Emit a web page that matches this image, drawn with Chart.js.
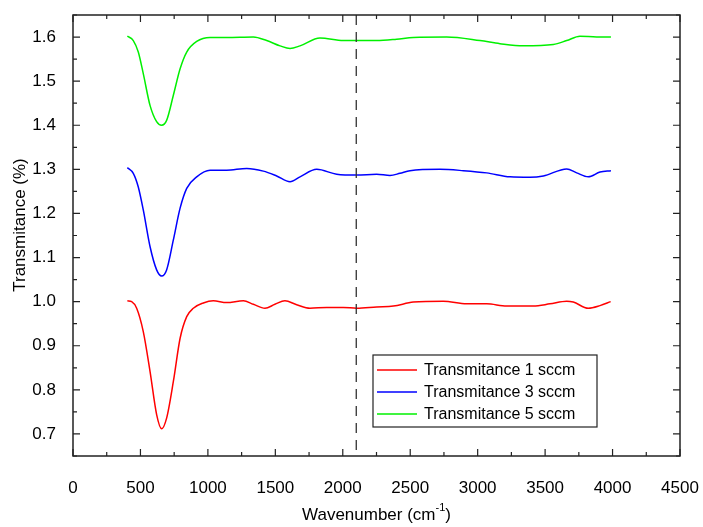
<!DOCTYPE html>
<html>
<head>
<meta charset="utf-8">
<script src="https://cdn.jsdelivr.net/npm/chart.js@4/dist/chart.umd.min.js"></script>
<style>
  html, body { margin: 0; padding: 0; background: #fff; }
  #wrap { width: 703px; height: 527px; }
</style>
</head>
<body>
<div id="wrap"><canvas id="chart" width="703" height="527"></canvas></div>
<script>
// Values (wavenumber in cm-1, transmitance)
const redX = [403, 435, 472, 521, 571, 620, 657, 694, 744, 794, 843, 892, 966, 1040, 1139, 1263, 1337, 1423, 1497, 1571, 1658, 1757, 1881, 2004, 2103, 2251, 2375, 2523, 2745, 2918, 3067, 3215, 3412, 3536, 3660, 3709, 3820, 3907, 3986];
const redY = [1.002, 1.000, 0.985, 0.932, 0.842, 0.744, 0.712, 0.736, 0.819, 0.917, 0.966, 0.985, 0.997, 1.002, 0.998, 1.002, 0.994, 0.985, 0.994, 1.002, 0.993, 0.985, 0.987, 0.987, 0.985, 0.988, 0.990, 0.999, 1.001, 0.995, 0.995, 0.990, 0.990, 0.995, 1.001, 0.999, 0.985, 0.991, 1.000];

const blueX = [403, 447, 484, 521, 571, 620, 657, 694, 744, 794, 843, 917, 1016, 1139, 1288, 1411, 1510, 1609, 1683, 1807, 1955, 2103, 2251, 2350, 2424, 2498, 2720, 2894, 3067, 3240, 3388, 3487, 3660, 3734, 3820, 3907, 3988];
const blueY = [1.304, 1.291, 1.260, 1.208, 1.125, 1.072, 1.058, 1.072, 1.140, 1.212, 1.257, 1.283, 1.298, 1.298, 1.302, 1.296, 1.285, 1.272, 1.283, 1.300, 1.289, 1.287, 1.289, 1.286, 1.291, 1.297, 1.300, 1.297, 1.292, 1.283, 1.282, 1.285, 1.301, 1.292, 1.283, 1.294, 1.297];

const greenX = [403, 447, 484, 521, 571, 620, 657, 694, 744, 794, 843, 917, 1016, 1139, 1337, 1436, 1535, 1609, 1683, 1831, 2004, 2251, 2399, 2523, 2770, 3017, 3165, 3338, 3561, 3660, 3758, 3882, 3988];
const greenY = [1.602, 1.592, 1.566, 1.517, 1.445, 1.408, 1.400, 1.411, 1.468, 1.528, 1.566, 1.590, 1.599, 1.599, 1.600, 1.592, 1.580, 1.574, 1.580, 1.598, 1.592, 1.592, 1.595, 1.599, 1.600, 1.592, 1.585, 1.580, 1.583, 1.592, 1.602, 1.600, 1.600];

const seriesLabels = ["Transmitance 1 sccm", "Transmitance 3 sccm", "Transmitance 5 sccm"];
const markerLine = 2100; // dashed vertical line
const xTitle = "Wavenumber (cm";
const xTitleSup = "-1";
const yTitle = "Transmitance (%)";

const FONT = "Arial, 'Liberation Sans', sans-serif";

function toPoints(xs, ys) {
    return xs.map((x, i) => ({ x: x, y: ys[i] }));
}

// frame, inward ticks, dashed line, axis titles and legend
const decorations = {
    id: "decorations",
    afterDraw(chart) {
        const ctx = chart.ctx;
        const a = chart.chartArea;
        const xs = chart.scales.x;
        const ys = chart.scales.y;
        ctx.save();

        // dashed marker
        const mx = xs.getPixelForValue(markerLine);
        ctx.strokeStyle = "#333";
        ctx.lineWidth = 1.3;
        ctx.setLineDash([10, 7]);
        ctx.beginPath();
        ctx.moveTo(mx, a.top);
        ctx.lineTo(mx, a.bottom);
        ctx.stroke();
        ctx.setLineDash([]);

        // frame
        ctx.strokeStyle = "#222";
        ctx.lineWidth = 1.5;
        ctx.strokeRect(a.left, a.top, a.right - a.left, a.bottom - a.top);

        // ticks on all four sides, pointing inward
        ctx.lineWidth = 1.2;
        ctx.beginPath();
        xs.ticks.forEach(t => {
            const p = xs.getPixelForValue(t.value);
            const len = t.label !== "" ? 7 : 4;
            ctx.moveTo(p, a.bottom); ctx.lineTo(p, a.bottom - len);
            ctx.moveTo(p, a.top); ctx.lineTo(p, a.top + len);
        });
        ys.ticks.forEach(t => {
            const p = ys.getPixelForValue(t.value);
            const len = t.label !== "" ? 7 : 4;
            ctx.moveTo(a.left, p); ctx.lineTo(a.left + len, p);
            ctx.moveTo(a.right, p); ctx.lineTo(a.right - len, p);
        });
        ctx.stroke();

        // axis titles
        ctx.fillStyle = "#000";
        ctx.font = "17px " + FONT;
        ctx.textBaseline = "middle";
        const w1 = ctx.measureText(xTitle).width;
        ctx.font = "11px " + FONT;
        const w2 = ctx.measureText(xTitleSup).width;
        ctx.font = "17px " + FONT;
        const w3 = ctx.measureText(")").width;
        let tx = (a.left + a.right) / 2 - (w1 + w2 + w3) / 2;
        const ty = 515;
        ctx.textAlign = "left";
        ctx.fillText(xTitle, tx, ty);
        ctx.font = "11px " + FONT;
        ctx.fillText(xTitleSup, tx + w1, ty - 7);
        ctx.font = "17px " + FONT;
        ctx.fillText(")", tx + w1 + w2, ty);

        ctx.save();
        ctx.translate(20, 225);
        ctx.rotate(-Math.PI / 2);
        ctx.textAlign = "center";
        ctx.fillText(yTitle, 0, 0);
        ctx.restore();

        // legend box
        const lx = 373, ly = 355, lw = 224, lh = 72;
        ctx.fillStyle = "#fff";
        ctx.fillRect(lx, ly, lw, lh);
        ctx.strokeStyle = "#222";
        ctx.lineWidth = 1.2;
        ctx.strokeRect(lx, ly, lw, lh);
        ctx.font = "16px " + FONT;
        ctx.textAlign = "left";
        chart.data.datasets.forEach((ds, i) => {
            const yy = ly + 15 + i * 22;
            ctx.strokeStyle = ds.borderColor;
            ctx.lineWidth = 1.5;
            ctx.beginPath();
            ctx.moveTo(lx + 4, yy);
            ctx.lineTo(lx + 44, yy);
            ctx.stroke();
            ctx.fillStyle = "#000";
            ctx.fillText(ds.label, lx + 51, yy + 1);
        });
        ctx.restore();
    }
};

const ctx = document.getElementById("chart").getContext("2d");
const chart = new Chart(ctx, {
    type: "line",
    data: {
        datasets: [
            { label: seriesLabels[0], data: toPoints(redX, redY), borderColor: "#ff0000" },
            { label: seriesLabels[1], data: toPoints(blueX, blueY), borderColor: "#0000ff" },
            { label: seriesLabels[2], data: toPoints(greenX, greenY), borderColor: "#00f000" }
        ]
    },
    options: {
        responsive: false,
        animation: false,
        layout: { padding: { left: 0, top: 15, right: 23, bottom: 0 } },
        elements: {
            point: { radius: 0 },
            line: { borderWidth: 1.5, cubicInterpolationMode: "monotone", fill: false }
        },
        plugins: {
            legend: { display: false },
            tooltip: { enabled: false }
        },
        scales: {
            x: {
                type: "linear",
                min: 0,
                max: 4500,
                grid: { display: false },
                border: { display: false },
                afterFit: s => { s.height = 71; s.paddingLeft = 0; s.paddingRight = 0; },
                ticks: {
                    stepSize: 250,
                    autoSkip: false,
                    maxRotation: 0,
                    padding: 14,
                    color: "#000",
                    font: { family: FONT, size: 17 },
                    callback: v => (v % 500 === 0 ? String(v) : "")
                }
            },
            y: {
                min: 0.65,
                max: 1.65,
                grid: { display: false },
                border: { display: false },
                afterFit: s => { s.width = 73; s.paddingTop = 0; s.paddingBottom = 0; },
                ticks: {
                    stepSize: 0.05,
                    autoSkip: false,
                    padding: 9,
                    color: "#000",
                    font: { family: FONT, size: 17 },
                    callback: v => (Math.round(v * 100) % 10 === 0 ? v.toFixed(1) : "")
                }
            }
        }
    },
    plugins: [decorations]
});
</script>
</body>
</html>
